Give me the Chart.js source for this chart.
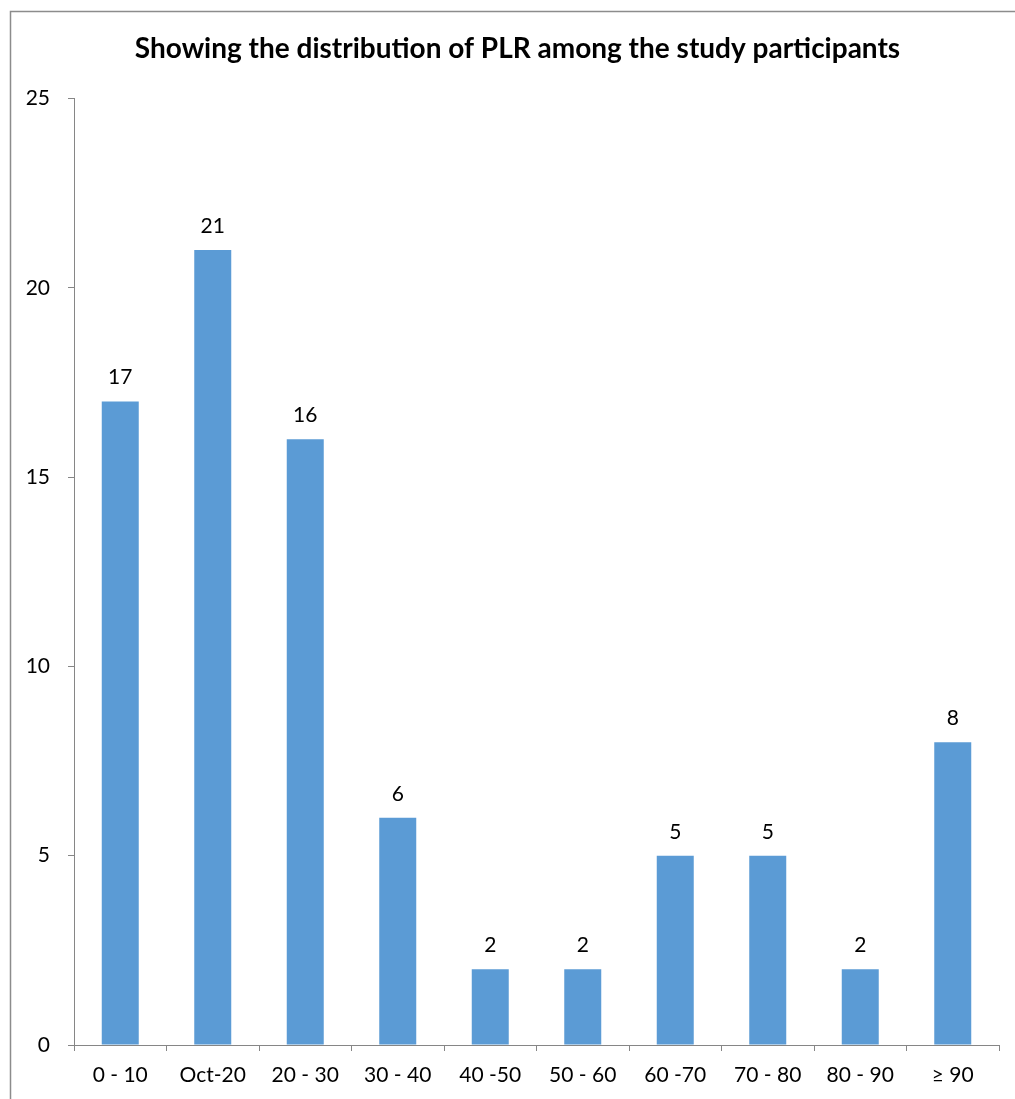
<!DOCTYPE html>
<html>
<head>
<meta charset="utf-8">
<script src="https://cdn.jsdelivr.net/npm/chart.js@4/dist/chart.umd.min.js"></script>
<style>
  html, body { margin: 0; padding: 0; background: #ffffff; }
  #wrap { width: 1015px; height: 1099px; position: relative; }
</style>
</head>
<body>
<div id="wrap"><canvas id="plr"></canvas></div>
<script>
// PLR ranges and number of participants in each
const categories = ['0 - 10', 'Oct-20', '20 - 30', '30 - 40', '40 -50', '50 - 60', '60 -70', '70 - 80', '80 - 90', '\u2265 90'];
const counts = [17, 21, 16, 6, 2, 2, 5, 5, 2, 8];
const yTicks = [0, 5, 10, 15, 20, 25];

const FONT = 'Lato, "Open Sans", "Liberation Sans", sans-serif';
const AXIS_GREY = '#868686';

// Outer frame of the chart area (top and left edges)
const framePlugin = {
  id: 'frame',
  beforeDraw(chart) {
    const c = chart.ctx;
    c.save();
    c.strokeStyle = '#8c8c8c';
    c.lineWidth = 1.5;
    c.beginPath();
    c.moveTo(10.5, chart.height);
    c.lineTo(10.5, 11.5);
    c.lineTo(chart.width, 11.5);
    c.stroke();
    c.restore();
  }
};

// Centre the title between the frame's inner area rather than the full canvas
const titleShift = {
  id: 'titleShift',
  afterLayout(chart) {
    if (chart.titleBlock) {
      chart.titleBlock.left = 36;
    }
  }
};

// Value labels above each bar
const valueLabels = {
  id: 'valueLabels',
  afterDatasetsDraw(chart) {
    const c = chart.ctx;
    const meta = chart.getDatasetMeta(0);
    c.save();
    c.font = '21px ' + FONT;
    c.fillStyle = '#000000';
    c.textAlign = 'center';
    c.textBaseline = 'alphabetic';
    meta.data.forEach((bar, i) => {
      c.fillText(String(counts[i]), bar.x, bar.y - 17);
    });
    c.restore();
  }
};

new Chart(document.getElementById('plr'), {
  type: 'bar',
  data: {
    labels: categories,
    datasets: [{
      data: counts,
      backgroundColor: '#5b9bd5',
      borderWidth: 0,
      categoryPercentage: 1.0,
      barPercentage: 0.4
    }]
  },
  options: {
    responsive: true,
    maintainAspectRatio: false,
    animation: false,
    layout: { padding: { left: 0, right: 16, top: 0, bottom: 0 } },
    plugins: {
      legend: { display: false },
      tooltip: { enabled: false },
      title: {
        display: true,
        text: 'Showing the distribution of PLR among the study participants',
        color: '#000000',
        font: { family: FONT, size: 28, weight: 'bold' },
        padding: { top: 32, bottom: 33 }
      }
    },
    scales: {
      x: {
        grid: { display: true, drawOnChartArea: false, drawTicks: true, tickLength: 6, color: AXIS_GREY, offset: true },
        border: { display: true, color: AXIS_GREY, width: 1 },
        ticks: { color: '#000000', font: { family: FONT, size: 21 }, padding: 12, maxRotation: 0, autoSkip: false },
        afterFit(scale) { scale.height = 54; }
      },
      y: {
        min: 0,
        max: 25,
        afterBuildTicks(scale) { scale.ticks = yTicks.map(v => ({ value: v })); },
        grid: { display: true, drawOnChartArea: false, drawTicks: true, tickLength: 6, color: AXIS_GREY },
        border: { display: true, color: AXIS_GREY, width: 1 },
        ticks: { color: '#000000', font: { family: FONT, size: 21 }, padding: 18 },
        afterFit(scale) { scale.width = 74; }
      }
    }
  },
  plugins: [framePlugin, titleShift, valueLabels]
});
</script>
</body>
</html>
